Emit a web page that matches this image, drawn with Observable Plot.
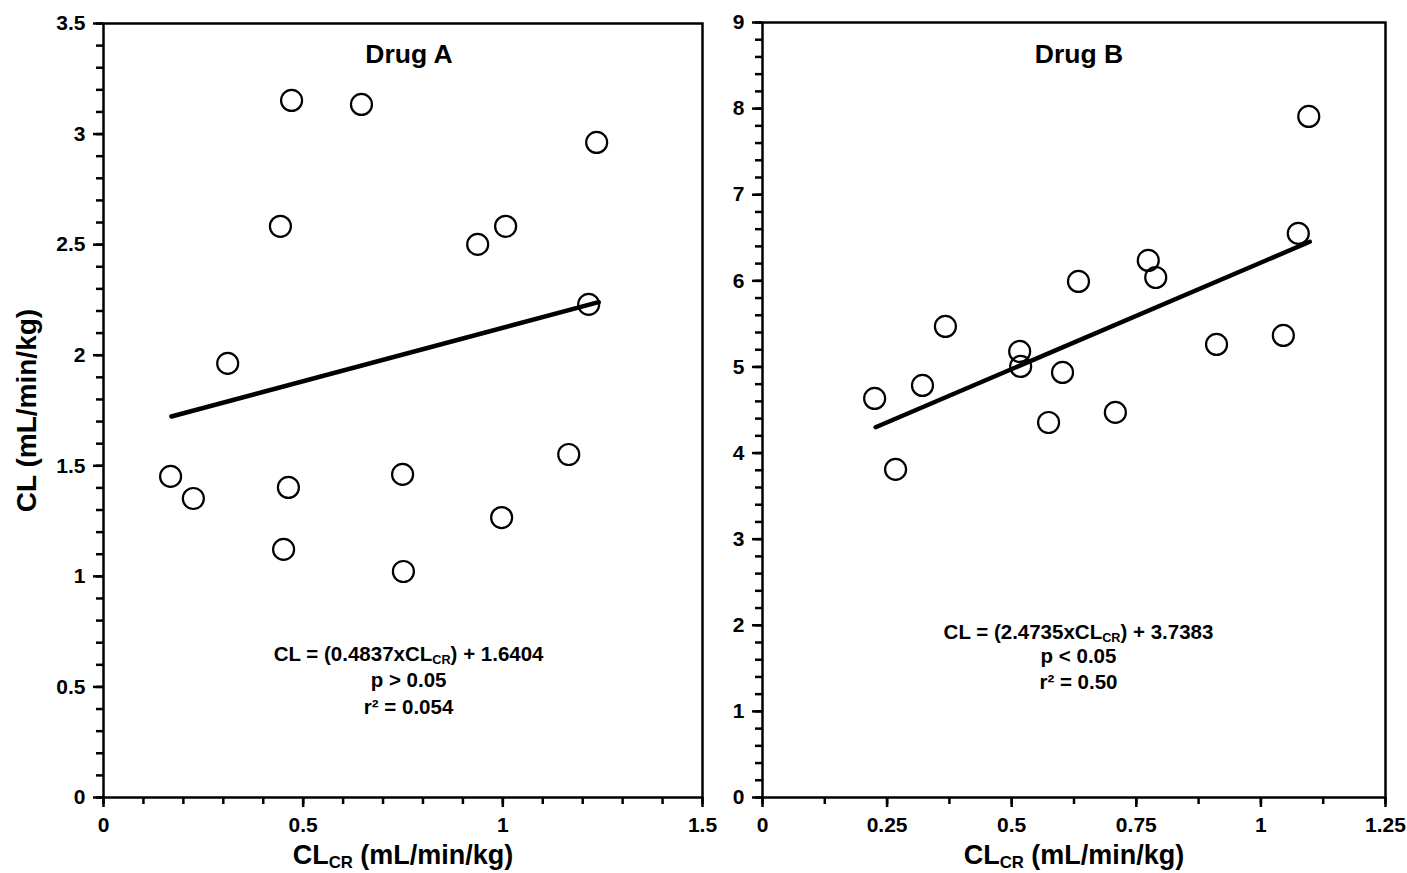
<!DOCTYPE html>
<html><head><meta charset="utf-8">
<script src="https://cdn.jsdelivr.net/npm/d3@7"></script>
<script src="https://cdn.jsdelivr.net/npm/@observablehq/plot@0.6"></script>
<style>
body{margin:0;background:#fff;}
#row{display:flex;width:1407px;height:873px;}
#row svg{flex:none;}
svg text{font-family:"Liberation Sans",Arial,sans-serif;font-weight:bold;fill:#000;}
svg g[aria-label*="tick label"], svg g[aria-label*="tick label"] text{font-size:21px !important;}
</style></head><body><div id="row"></div>
<script>
// ---- Drug A data ----
const drugA_clcr = [0.168, 0.225, 0.311, 0.443, 0.451, 0.463, 0.471, 0.646, 0.749, 0.751, 0.937, 0.997, 1.007, 1.165, 1.215, 1.235];
const drugA_cl   = [1.452, 1.352, 1.963, 2.583, 1.122, 1.402, 3.152, 3.134, 1.461, 1.022, 2.501, 1.266, 2.583, 1.551, 2.230, 2.962];
const drugA_fitX = [0.17, 1.24];
const drugA_fitY = [1.723, 2.240];
const drugA_eq   = ["CL = (0.4837xCL_CR) + 1.6404", "p > 0.05", "r² = 0.054"];
const drugA_eqY  = [0.647, 0.529, 0.407];
const drugA_eqX  = 0.764;

// ---- Drug B data ----
const drugB_clcr = [0.225, 0.267, 0.321, 0.367, 0.516, 0.518, 0.574, 0.602, 0.634, 0.708, 0.774, 0.789, 0.911, 1.045, 1.075, 1.096];
const drugB_cl   = [4.634, 3.810, 4.785, 5.470, 5.180, 5.006, 4.355, 4.936, 5.993, 4.472, 6.237, 6.039, 5.261, 5.366, 6.551, 7.909];
const drugB_fitX = [0.227, 1.098];
const drugB_fitY = [4.300, 6.454];
const drugB_eq   = ["CL = (2.4735xCL_CR) + 3.7383", "p < 0.05", "r² = 0.50"];
const drugB_eqY  = [1.916, 1.638, 1.336];
const drugB_eqX  = 0.634;

// ---- ticks ----
const aYMajor = [0, 0.5, 1, 1.5, 2, 2.5, 3, 3.5];
const aYMinor = d3.range(0, 36).map(i => i / 10);
const aXMajor = [0, 0.5, 1, 1.5];
const aXMinor = d3.range(0, 16).map(i => i / 10);
const bYMajor = [0, 1, 2, 3, 4, 5, 6, 7, 8, 9];
const bYMinor = d3.range(0, 46).map(i => i / 5);
const bXMajor = [0, 0.25, 0.5, 0.75, 1, 1.25];
const bXMinor = d3.range(0, 11).map(i => i / 8);

const yTitle = "CL (mL/min/kg)";
const xTitle = "CL_CR (mL/min/kg)";
const fmt = d => `${d}`;

function panel({width, marginLeft, marginRight, marginTop, xDomain, yDomain, xs, ys, fitX, fitY,
                eq, eqX, eqY, title, titleDx, titleDy, yMaj, yMin, xMaj, xMin, showYTitle}) {
  const pts = xs.map((x, i) => ({x, y: ys[i]}));
  const fit = fitX.map((x, i) => ({x, y: fitY[i]}));
  const eqRows = eq.map((t, i) => ({t, x: eqX, y: eqY[i]}));
  const marks = [
    Plot.axisY({ticks: yMin, tickSize: 7, tickFormat: () => "", strokeWidth: 2.5, label: null}),
    Plot.axisY({ticks: yMaj, tickSize: 10, tickPadding: 8, strokeWidth: 2.5, tickFormat: fmt, label: null, fontSize: 21}),
    Plot.axisX({ticks: xMin, tickSize: 7, tickFormat: () => "", strokeWidth: 2.5, label: null}),
    Plot.axisX({ticks: xMaj, tickSize: 10, tickPadding: 10, strokeWidth: 2.5, tickFormat: fmt, label: null, fontSize: 21}),
    Plot.frame({stroke: "black", strokeWidth: 2.5}),
    Plot.line(fit, {x: "x", y: "y", stroke: "black", strokeWidth: 4.5}),
    Plot.dot(pts, {x: "x", y: "y", r: 10.5, stroke: "black", strokeWidth: 2.2, fill: "none"}),
    Plot.text(eqRows, {x: "x", y: "y", text: "t", fontSize: 20.5}),
    Plot.text([title], {frameAnchor: "top", dx: titleDx, dy: titleDy, fontSize: 26.5}),
    Plot.text([xTitle], {frameAnchor: "bottom", dx: 0, dy: 66, fontSize: 27})
  ];
  if (showYTitle) marks.push(Plot.text([yTitle], {frameAnchor: "left", rotate: -90, dx: -76, textAnchor: "middle", fontSize: 28}));
  return Plot.plot({
    width, height: 873, marginLeft, marginRight, marginTop, marginBottom: 76,
    x: {domain: xDomain, label: null}, y: {domain: yDomain, label: null},
    axis: null,
    marks
  });
}

const left = panel({width: 720, marginLeft: 103, marginRight: 18, marginTop: 23,
  xDomain: [0, 1.5], yDomain: [0, 3.5], xs: drugA_clcr, ys: drugA_cl, fitX: drugA_fitX, fitY: drugA_fitY,
  eq: drugA_eq, eqX: drugA_eqX, eqY: drugA_eqY, title: "Drug A", titleDx: 6, titleDy: 21,
  yMaj: aYMajor, yMin: aYMinor, xMaj: aXMajor, xMin: aXMinor, showYTitle: true});
const right = panel({width: 687, marginLeft: 42, marginRight: 22, marginTop: 22,
  xDomain: [0, 1.25], yDomain: [0, 9], xs: drugB_clcr, ys: drugB_cl, fitX: drugB_fitX, fitY: drugB_fitY,
  eq: drugB_eq, eqX: drugB_eqX, eqY: drugB_eqY, title: "Drug B", titleDx: 5, titleDy: 22,
  yMaj: bYMajor, yMin: bYMinor, xMaj: bXMajor, xMin: bXMinor, showYTitle: false});

const row = document.getElementById("row");
row.append(left, right);

// subscript "CR" rendering
const NS = "http://www.w3.org/2000/svg";
for (const svg of [left, right]) {
  svg.querySelectorAll("text, tspan").forEach(el => {
    if (el.children.length) return;
    const t = el.textContent;
    const i = t.indexOf("_CR");
    if (i < 0) return;
    const fs = parseFloat(getComputedStyle(el).fontSize) || 19;
    const shift = Math.round(fs * 0.16);
    el.textContent = "";
    el.append(document.createTextNode(t.slice(0, i)));
    const sub = document.createElementNS(NS, "tspan");
    sub.setAttribute("font-size", (fs * 0.62) + "px");
    sub.setAttribute("dy", shift);
    sub.textContent = "CR";
    const rest = document.createElementNS(NS, "tspan");
    rest.setAttribute("dy", -shift);
    rest.textContent = t.slice(i + 3);
    el.append(sub, rest);
  });
}
</script></body></html>
